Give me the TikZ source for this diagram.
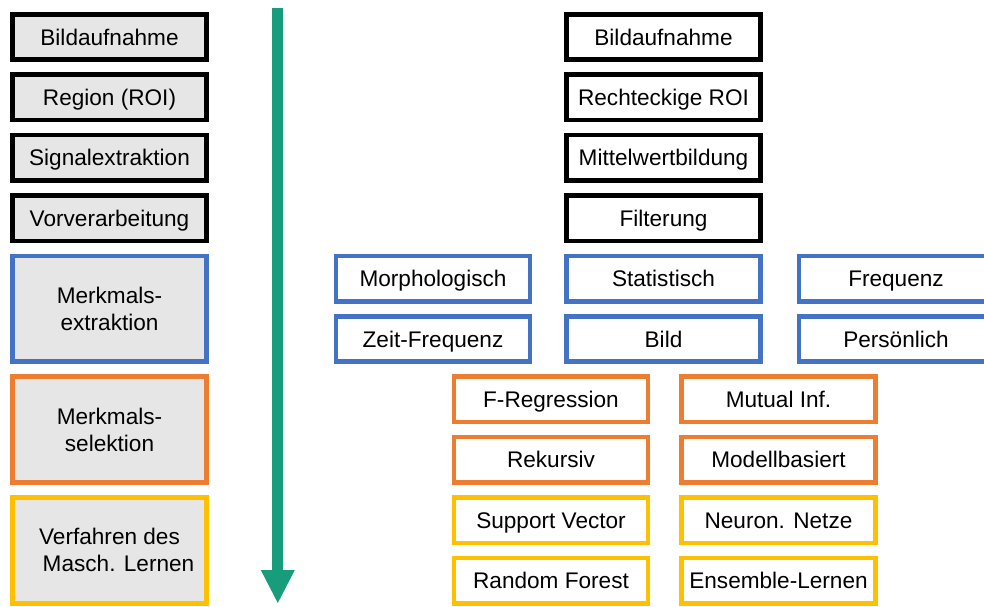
\documentclass[tikz,border=0pt]{standalone}
\usepackage{fontspec}
\setmainfont{Liberation Sans}
\usepackage{tikz}
\usetikzlibrary{arrows.meta,positioning}

\definecolor{boxgray}{HTML}{E7E6E6}
\definecolor{mblue}{HTML}{4472C4}
\definecolor{morange}{HTML}{ED7D31}
\definecolor{myellow}{HTML}{FFC000}
\definecolor{pfeilgreen}{RGB}{24,157,124}

\begin{document}
\begin{tikzpicture}[x=1pt,y=-1pt,node distance=10.4pt]
\tikzstyle{rahmen}=[rectangle,draw,line width=4.6pt,minimum width=194pt,inner sep=0pt,font=\fontsize{22.6}{27}\selectfont]
\tikzstyle{box}=[rahmen,minimum height=45.4pt,text height=18pt,text depth=2pt]
\tikzstyle{phase}=[box,fill=boxgray]
\tikzstyle{bigphase}=[rahmen,fill=boxgray,minimum height=105.8pt,align=center]
\tikzstyle{pfeil}=[draw=pfeilgreen,line width=11pt,-{Triangle[width=34pt,length=33pt,fill=pfeilgreen,line width=0pt]}]

\clip (0,0) rectangle (984,606);

% left column
\node[phase] (aufnahme) at (109.5,37) {Bildaufnahme};
\node[phase,below=of aufnahme] (region) {Region (ROI)};
\node[phase,below=of region] (signal) {Signalextraktion};
\node[phase,below=of signal] (vorver) {Vorverarbeitung};
\node[bigphase,draw=mblue,below=of vorver] (extraktion) {Merkmals-\\extraktion};
\node[bigphase,draw=morange,below=of extraktion] (selektion) {Merkmals-\\selektion};
\node[bigphase,draw=myellow,below=of selektion] (lernen) {Verfahren des\\\hspace*{18pt}Masch. Lernen};

% arrow
\coordinate (start) at (277.8,8);
\coordinate (ende) at (277.8,603);
\draw[pfeil] (start) -- (ende);

% right column
\node[box] (raufnahme) at (663.5,37) {Bildaufnahme};
\node[box,below=of raufnahme] (roi) {Rechteckige ROI};
\node[box,below=of roi] (mittel) {Mittelwertbildung};
\node[box,below=of mittel] (filter) {Filterung};

\node[box,draw=mblue,below=of filter] (statist) {Statistisch};
\node[box,draw=mblue,below=of statist] (bild) {Bild};
\node[box,draw=mblue,left=31.9pt of statist] (morph) {Morphologisch};
\node[box,draw=mblue,below=of morph] (zeitfreq) {Zeit-Frequenz};
\node[box,draw=mblue,right=33.9pt of statist] (freq) {Frequenz};
\node[box,draw=mblue,below=of freq] (pers) {Persönlich};

\node[box,draw=morange] (fregr) at (551,399.4) {F-Regression};
\node[box,draw=morange,below=of fregr] (rekursiv) {Rekursiv};
\node[box,draw=morange,right=28.9pt of fregr] (mutual) {Mutual Inf.};
\node[box,draw=morange,below=of mutual] (modell) {Modellbasiert};

\node[box,draw=myellow,below=of rekursiv] (svm) {Support Vector};
\node[box,draw=myellow,below=of svm] (forest) {Random Forest};
\node[box,draw=myellow,below=of modell] (netze) {Neuron. Netze};
\node[box,draw=myellow,below=of netze] (ensemble) {Ensemble-Lernen};
\end{tikzpicture}
\end{document}
